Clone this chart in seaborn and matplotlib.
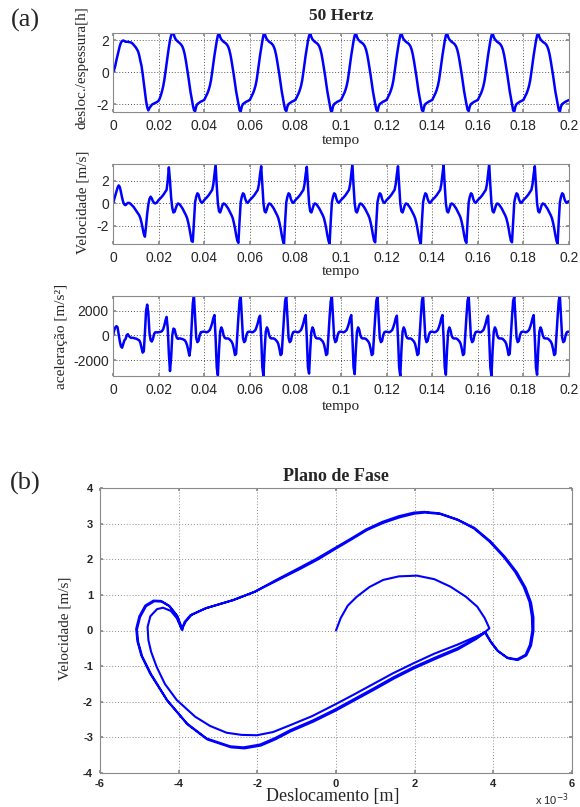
import numpy as np
import matplotlib
matplotlib.use("Agg")
import matplotlib.pyplot as plt
import seaborn as sns

# ---------------- data ----------------
xtick_vals = [0, 0.02, 0.04, 0.06, 0.08, 0.1, 0.12, 0.14, 0.16, 0.18, 0.2]
xtick_labels = ["0", "0.02", "0.04", "0.06", "0.08", "0.1", "0.12", "0.14", "0.16", "0.18", "0.2"]

# displacement / thickness (10 periods of 0.02 s, step 0.5 ms)
desloc = (
    [0.0, 0.15, 0.4, 0.75, 1.05, 1.35, 1.65, 1.85, 1.95, 1.98, 1.95, 1.9, 1.9, 1.9, 1.88, 1.87, 1.85, 1.8, 1.72, 1.65,
     1.55, 1.42, 1.3, 1.05, 0.7, 0.4, -0.1, -0.65, -1.25, -1.8, -2.2, -2.4, -2.25, -2.15, -2.05, -2.0, -1.97, -1.93, -1.9, -1.85]
    + [-1.8, -1.65, -1.45, -1.2, -0.9, -0.5, 0.0, 0.55, 1.05, 1.55, 2.0, 2.3, 2.44, 2.45, 2.2, 2.05, 1.97, 1.9, 1.85, 1.78,
       1.7, 1.58, 1.38, 1.08, 0.68, 0.22, -0.25, -0.75, -1.25, -1.65, -2.05, -2.38, -2.46, -2.15, -2.0, -1.95, -1.9, -1.85, -1.82, -1.78]
    + [-1.75, -1.6, -1.45, -1.3, -1.1, -0.85, -0.5, 0.0, 0.55, 1.05, 1.5, 1.95, 2.3, 2.44, 2.2, 2.05, 1.97, 1.9, 1.85, 1.8,
       1.72, 1.6, 1.4, 1.1, 0.7, 0.25, -0.2, -0.7, -1.2, -1.6, -2.0, -2.38, -2.47, -2.15, -2.0, -1.95, -1.9, -1.85, -1.82, -1.78]
    + [-1.75, -1.6, -1.45, -1.3, -1.1, -0.85, -0.5, 0.0, 0.55, 1.05, 1.5, 1.95, 2.32, 2.45, 2.2, 2.05, 1.97, 1.9, 1.85, 1.8,
       1.72, 1.6, 1.4, 1.1, 0.7, 0.25, -0.2, -0.7, -1.2, -1.6, -2.0, -2.35, -2.45, -2.15, -2.0, -1.95, -1.9, -1.85, -1.82, -1.78]
    + [-1.75, -1.6, -1.45, -1.3, -1.1, -0.85, -0.5, 0.0, 0.55, 1.05, 1.5, 1.95, 2.28, 2.43, 2.2, 2.05, 1.97, 1.9, 1.85, 1.8,
       1.72, 1.6, 1.4, 1.1, 0.7, 0.25, -0.2, -0.7, -1.2, -1.6, -2.0, -2.4, -2.48, -2.15, -2.0, -1.95, -1.9, -1.85, -1.82, -1.78]
    + [-1.75, -1.6, -1.45, -1.3, -1.1, -0.85, -0.5, 0.0, 0.55, 1.05, 1.5, 1.95, 2.3, 2.45, 2.2, 2.05, 1.97, 1.9, 1.85, 1.8,
       1.72, 1.6, 1.4, 1.1, 0.7, 0.25, -0.2, -0.7, -1.2, -1.6, -2.0, -2.36, -2.46, -2.15, -2.0, -1.95, -1.9, -1.85, -1.82, -1.78]
    + [-1.75, -1.6, -1.45, -1.3, -1.1, -0.85, -0.5, 0.0, 0.55, 1.05, 1.5, 1.95, 2.31, 2.44, 2.2, 2.05, 1.97, 1.9, 1.85, 1.8,
       1.72, 1.6, 1.4, 1.1, 0.7, 0.25, -0.2, -0.7, -1.2, -1.6, -2.0, -2.38, -2.47, -2.15, -2.0, -1.95, -1.9, -1.85, -1.82, -1.78]
    + [-1.75, -1.6, -1.45, -1.3, -1.1, -0.85, -0.5, 0.0, 0.55, 1.05, 1.5, 1.95, 2.3, 2.45, 2.2, 2.05, 1.97, 1.9, 1.85, 1.8,
       1.72, 1.6, 1.4, 1.1, 0.7, 0.25, -0.2, -0.7, -1.2, -1.6, -2.0, -2.35, -2.45, -2.15, -2.0, -1.95, -1.9, -1.85, -1.82, -1.78]
    + [-1.75, -1.6, -1.45, -1.3, -1.1, -0.85, -0.5, 0.0, 0.55, 1.05, 1.5, 1.95, 2.29, 2.44, 2.2, 2.05, 1.97, 1.9, 1.85, 1.8,
       1.72, 1.6, 1.4, 1.1, 0.7, 0.25, -0.2, -0.7, -1.2, -1.6, -2.0, -2.4, -2.48, -2.15, -2.0, -1.95, -1.9, -1.85, -1.82, -1.78]
    + [-1.75, -1.6, -1.45, -1.3, -1.1, -0.85, -0.5, 0.0, 0.55, 1.05, 1.5, 1.95, 2.3, 2.45, 2.2, 2.05, 1.97, 1.9, 1.85, 1.8,
       1.72, 1.6, 1.4, 1.1, 0.7, 0.25, -0.2, -0.7, -1.2, -1.6, -2.0, -2.37, -2.47, -2.15, -2.0, -1.95, -1.9, -1.85, -1.82, -1.78]
    + [-1.75]
)

# velocity [m/s]
veloc = (
    [0.0, 0.35, 0.7, 1.05, 1.4, 1.6, 1.45, 1.0, 0.5, 0.1, -0.1, -0.15, -0.05, 0.05, 0.05, 0.0, -0.1, -0.2, -0.3, -0.45,
     -0.6, -0.75, -0.9, -1.05, -1.3, -1.7, -2.2, -2.7, -2.95, -2.0, -0.9, -0.1, 0.4, 0.6, 0.45, 0.2, 0.05, 0.0, 0.05, 0.15]
    + [0.3, 0.4, 0.5, 0.62, 0.74, 0.9, 1.05, 1.2, 2.0, 3.2, 2.0, 0.5, -0.4, -0.8, -0.75, -0.45, -0.15, 0.0, -0.05, -0.15,
       -0.3, -0.45, -0.65, -0.85, -1.05, -1.3, -1.7, -2.2, -2.8, -3.35, -3.4, -1.6, 0.1, 0.6, 0.9, 0.8, 0.4, 0.15, 0.05, 0.15]
    + [0.3, 0.4, 0.5, 0.62, 0.74, 0.9, 1.05, 1.2, 1.7, 2.6, 3.45, 1.6, 0.0, -0.7, -0.8, -0.5, -0.15, 0.0, -0.05, -0.15,
       -0.3, -0.45, -0.65, -0.85, -1.05, -1.3, -1.7, -2.2, -2.8, -3.3, -3.5, -1.6, 0.1, 0.6, 0.9, 0.8, 0.4, 0.15, 0.05, 0.15]
    + [0.3, 0.4, 0.5, 0.62, 0.74, 0.9, 1.05, 1.2, 1.7, 2.6, 3.3, 1.6, 0.0, -0.7, -0.8, -0.5, -0.15, 0.0, -0.05, -0.15,
       -0.3, -0.45, -0.65, -0.85, -1.05, -1.3, -1.7, -2.2, -2.8, -3.3, -3.6, -1.6, 0.1, 0.6, 0.9, 0.8, 0.4, 0.15, 0.05, 0.15]
    + [0.3, 0.4, 0.5, 0.62, 0.74, 0.9, 1.05, 1.2, 1.7, 2.6, 3.25, 1.6, 0.0, -0.7, -0.8, -0.5, -0.15, 0.0, -0.05, -0.15,
       -0.3, -0.45, -0.65, -0.85, -1.05, -1.3, -1.7, -2.2, -2.8, -3.3, -3.6, -1.6, 0.1, 0.6, 0.9, 0.8, 0.4, 0.15, 0.05, 0.15]
    + [0.3, 0.4, 0.5, 0.62, 0.74, 0.9, 1.05, 1.2, 1.7, 2.6, 3.5, 1.6, 0.0, -0.7, -0.8, -0.5, -0.15, 0.0, -0.05, -0.15,
       -0.3, -0.45, -0.65, -0.85, -1.05, -1.3, -1.7, -2.2, -2.8, -3.3, -3.45, -1.6, 0.1, 0.6, 0.9, 0.8, 0.4, 0.15, 0.05, 0.15]
    + [0.3, 0.4, 0.5, 0.62, 0.74, 0.9, 1.05, 1.2, 1.7, 2.6, 3.3, 1.6, 0.0, -0.7, -0.8, -0.5, -0.15, 0.0, -0.05, -0.15,
       -0.3, -0.45, -0.65, -0.85, -1.05, -1.3, -1.7, -2.2, -2.8, -3.3, -3.6, -1.6, 0.1, 0.6, 0.9, 0.8, 0.4, 0.15, 0.05, 0.15]
    + [0.3, 0.4, 0.5, 0.62, 0.74, 0.9, 1.05, 1.2, 1.7, 2.6, 3.4, 1.6, 0.0, -0.7, -0.8, -0.5, -0.15, 0.0, -0.05, -0.15,
       -0.3, -0.45, -0.65, -0.85, -1.05, -1.3, -1.7, -2.2, -2.8, -3.3, -3.5, -1.6, 0.1, 0.6, 0.9, 0.8, 0.4, 0.15, 0.05, 0.15]
    + [0.3, 0.4, 0.5, 0.62, 0.74, 0.9, 1.05, 1.2, 1.7, 2.6, 3.5, 1.6, 0.0, -0.7, -0.8, -0.5, -0.15, 0.0, -0.05, -0.15,
       -0.3, -0.45, -0.65, -0.85, -1.05, -1.3, -1.7, -2.2, -2.8, -3.3, -3.45, -1.6, 0.1, 0.6, 0.9, 0.8, 0.4, 0.15, 0.05, 0.15]
    + [0.3, 0.4, 0.5, 0.62, 0.74, 0.9, 1.05, 1.2, 1.7, 2.6, 3.3, 1.6, 0.0, -0.7, -0.8, -0.5, -0.15, 0.0, -0.05, -0.15,
       -0.3, -0.45, -0.65, -0.85, -1.05, -1.3, -1.7, -2.2, -2.8, -3.3, -3.6, -1.6, 0.1, 0.6, 0.9, 0.8, 0.4, 0.15, 0.05, 0.15]
    + [0.2]
)

# acceleration [m/s^2]
acel = (
    [0, 400, 650, 750, 650, 100, -500, -900, -1000, -700, -400, -300, 0, 100, -50, -150, -200, -200, -200, -250,
     -250, -300, -350, -400, -600, -1000, -1400, -1300, 200, 2000, 2500, 1800, 200, -400, -500, -300, 100, 250, 250, 250]
    + [250, 280, 300, 350, 500, 800, 1200, 1500, 600, -1500, -2900, -1800, 0, 550, 500, 100, -200, -280, -250, -250,
       -280, -300, -350, -400, -550, -800, -1200, -1650, -1000, 800, 2600, 3200, 1500, -200, -550, -450, 0, 250, 280, 300]
    + [300, 280, 250, 280, 350, 450, 700, 1000, 1400, 1650, -200, -2600, -3250, -1200, 300, 650, 450, 0, -200, -250,
       -250, -250, -300, -400, -500, -700, -1100, -1600, -1500, 0, 1500, 2800, 3200, 1500, -200, -550, -450, 0, 250, 300]
    + [300, 280, 250, 280, 350, 450, 700, 1000, 1400, 1600, -200, -2600, -3300, -1200, 300, 650, 450, 0, -200, -250,
       -250, -250, -300, -400, -500, -700, -1100, -1600, -1500, 0, 1500, 2800, 3200, 1500, -200, -550, -450, 0, 250, 300]
    + [300, 280, 250, 280, 350, 450, 700, 1000, 1400, 1650, -200, -2600, -3100, -1200, 300, 650, 450, 0, -200, -250,
       -250, -250, -300, -400, -500, -700, -1100, -1600, -1500, 0, 1500, 2800, 3150, 1500, -200, -550, -450, 0, 250, 300]
    + [300, 280, 250, 280, 350, 450, 700, 1000, 1400, 1650, -200, -2600, -3150, -1200, 300, 650, 450, 0, -200, -250,
       -250, -250, -300, -400, -500, -700, -1100, -1600, -1500, 0, 1500, 2800, 3200, 1500, -200, -550, -450, 0, 250, 300]
    + [300, 280, 250, 280, 350, 450, 700, 1000, 1400, 1600, -200, -2600, -3300, -1200, 300, 650, 450, 0, -200, -250,
       -250, -250, -300, -400, -500, -700, -1100, -1600, -1500, 0, 1500, 2800, 3200, 1500, -200, -550, -450, 0, 250, 300]
    + [300, 280, 250, 280, 350, 450, 700, 1000, 1400, 1650, -200, -2600, -3200, -1200, 300, 650, 450, 0, -200, -250,
       -250, -250, -300, -400, -500, -700, -1100, -1600, -1500, 0, 1500, 2800, 3200, 1500, -200, -550, -450, 0, 250, 300]
    + [300, 280, 250, 280, 350, 450, 700, 1000, 1400, 1600, -200, -2600, -3300, -1200, 300, 650, 450, 0, -200, -250,
       -250, -250, -300, -400, -500, -700, -1100, -1600, -1500, 0, 1500, 2800, 3150, 1500, -200, -550, -450, 0, 250, 300]
    + [300, 280, 250, 280, 350, 450, 700, 1000, 1400, 1650, -200, -2600, -3200, -1200, 300, 650, 450, 0, -200, -250,
       -250, -250, -300, -400, -500, -700, -1100, -1600, -1500, 0, 1500, 2800, 3200, 1500, -200, -550, -450, 0, 250, 300]
    + [300]
)

tempo = np.linspace(0, 0.2, len(desloc))

# phase plane trajectory: displacement [x 1e-3 m], velocity [m/s]
fase_x_inicio = [0.0, 0.12, 0.3, 0.53, 0.85, 1.2, 1.6, 2.06, 2.5, 2.91, 3.3, 3.59, 3.78, 3.9,
                 3.75, 3.5, 3.08, 2.5, 1.97, 1.45, 0.95, 0.45, -0.03, -0.6, -1.17, -1.6, -2.01, -2.4, -2.78, -3.2,
                 -3.58, -4.05, -4.35, -4.56, -4.7, -4.77, -4.79, -4.72, -4.55, -4.4, -4.2, -4.05, -3.92]
fase_v_inicio = [0.0, 0.35, 0.7, 0.95, 1.22, 1.42, 1.52, 1.54, 1.44, 1.23, 0.95, 0.67, 0.35, 0.06,
                 -0.08, -0.2, -0.4, -0.65, -0.92, -1.2, -1.5, -1.8, -2.08, -2.4, -2.66, -2.85, -2.94, -2.93, -2.87, -2.68,
                 -2.42, -1.95, -1.5, -1.02, -0.6, -0.27, 0.1, 0.4, 0.6, 0.64, 0.55, 0.35, 0.03]
fase_x_ciclo1 = [-3.82, -3.67, -3.3, -2.9, -2.6, -2.06, -1.5, -0.91, -0.45, 0.0, 0.4, 0.79, 1.2, 1.63, 2.0, 2.27, 2.65,
                 3.1, 3.5, 3.9, 4.26, 4.55, 4.77, 4.92, 4.98, 4.99, 4.93, 4.82, 4.6, 4.35, 4.1, 3.92, 3.78,
                 3.55, 3.08, 2.5, 1.97, 1.45, 0.95, 0.45, -0.03, -0.6, -1.17, -1.55, -1.93, -2.35, -2.69, -3.29, -3.79,
                 -4.3, -4.73, -4.95, -5.05, -5.08, -5.0, -4.85, -4.64, -4.45, -4.25, -4.05, -3.92]
fase_v_ciclo1 = [0.25, 0.44, 0.63, 0.76, 0.86, 1.09, 1.4, 1.73, 2.0, 2.3, 2.56, 2.82, 3.02, 3.18, 3.28, 3.31, 3.27,
                 3.1, 2.87, 2.5, 2.07, 1.65, 1.23, 0.8, 0.39, 0.0, -0.4, -0.68, -0.81, -0.76, -0.56, -0.3, -0.04,
                 -0.22, -0.5, -0.77, -1.03, -1.32, -1.63, -1.93, -2.22, -2.53, -2.8, -3.02, -3.2, -3.28, -3.25, -3.03, -2.61,
                 -1.95, -1.2, -0.7, -0.3, 0.05, 0.4, 0.7, 0.84, 0.83, 0.7, 0.42, 0.03]
fase_x_ciclo2 = [-3.85, -3.7, -3.32, -2.92, -2.62, -2.08, -1.52, -0.93, -0.47, -0.02, 0.38, 0.77, 1.18, 1.6, 1.98, 2.25, 2.63,
                 3.08, 3.52, 3.93, 4.3, 4.6, 4.82, 4.96, 5.02, 5.02, 4.96, 4.84, 4.62, 4.37, 4.12, 3.94, 3.8,
                 3.56, 3.1, 2.52, 1.99, 1.47, 0.97, 0.47, -0.01, -0.58, -1.15, -1.53, -1.91, -2.33, -2.67, -3.27, -3.77,
                 -4.28, -4.7, -4.93, -5.03, -5.06, -4.98, -4.83, -4.62, -4.43, -4.23, -4.03, -3.9]
fase_v_ciclo2 = [0.24, 0.43, 0.62, 0.75, 0.85, 1.08, 1.42, 1.76, 2.03, 2.32, 2.58, 2.84, 3.05, 3.21, 3.31, 3.33, 3.29,
                 3.12, 2.88, 2.5, 2.06, 1.63, 1.2, 0.78, 0.37, -0.02, -0.42, -0.7, -0.83, -0.78, -0.58, -0.32, -0.05,
                 -0.24, -0.53, -0.8, -1.06, -1.35, -1.66, -1.96, -2.25, -2.56, -2.83, -3.05, -3.23, -3.31, -3.28, -3.06, -2.64,
                 -1.98, -1.23, -0.72, -0.32, 0.03, 0.38, 0.68, 0.82, 0.81, 0.68, 0.4, 0.02]

fase_x = fase_x_inicio + fase_x_ciclo1 + fase_x_ciclo2
fase_v = fase_v_inicio + fase_v_ciclo1 + fase_v_ciclo2
fase_xticks = [-6, -4, -2, 0, 2, 4, 6]
fase_yticks = [-4, -3, -2, -1, 0, 1, 2, 3, 4]

# ---------------- styling ----------------
sns.set_theme(style="white")
plt.rcParams['font.family'] = ['Liberation Sans', 'DejaVu Sans']
plt.rcParams['axes.unicode_minus'] = False
SERIF = ['Liberation Serif', 'DejaVu Serif']
BLUE = '#0000ff'
W, H = 580, 807

fig = plt.figure(figsize=(W / 100, H / 100), dpi=100)


def rect(l, t, r, b):
    return [l / W, 1 - b / H, (r - l) / W, (b - t) / H]


def style(ax, grid_color='#555555'):
    ax.grid(True, linestyle=(0, (1, 2)), color=grid_color, linewidth=0.7)
    for s in ax.spines.values():
        s.set_color('#8a8a8a')
        s.set_linewidth(0.8)
    ax.set_axisbelow(True)


series = [
    (desloc, rect(113, 33, 569, 112), [-2, 0, 2], ["-2", "0", "2"], (-2.5, 2.45),
     "desloc./espessura[h]", (-0.069, 0.56), -0.36),
    (veloc, rect(113, 164, 569, 244), [-2, 0, 2], ["-2", "0", "2"], (-3.6, 3.5),
     "Velocidade [m/s]", (-0.066, 0.525), -0.34),
    (acel, rect(113, 296, 569, 376), [-2000, 0, 2000], ["-2000", "0", "2000"], (-3300, 3200),
     "aceleração [m/s²]", (-0.112, 0.5), -0.38),
]

for vals, r, yt, ytl, ylim, ylab, ylpos, xly in series:
    ax = fig.add_axes(r)
    sns.lineplot(x=tempo, y=vals, ax=ax, color=BLUE, linewidth=1.8, estimator=None)
    ax.set_xlim(0, 0.2)
    ax.set_ylim(*ylim)
    ax.set_xticks(xtick_vals)
    ax.set_xticklabels(xtick_labels)
    ax.set_yticks(yt)
    ax.set_yticklabels(ytl)
    style(ax)
    ax.tick_params(axis='both', direction='in', length=2, color='#8a8a8a', labelsize=10,
                   top=True, right=True, bottom=True, left=True)
    ax.tick_params(axis='x', pad=5)
    ax.tick_params(axis='y', pad=3)
    ax.set_ylabel(ylab, fontfamily=SERIF, fontsize=11, va='center')
    ax.yaxis.set_label_coords(*ylpos)
    ax.set_xlabel("tempo", fontfamily=SERIF, fontsize=11, va='center')
    ax.xaxis.set_label_coords(0.5, xly)

fig.text(341 / W, 1 - 16.5 / H, "50 Hertz", fontfamily=SERIF, fontweight='bold', fontsize=12.5,
         ha='center', va='center')

# phase plane
axp = fig.add_axes(rect(100, 488, 572, 773))
sns.lineplot(x=fase_x, y=fase_v, ax=axp, sort=False, estimator=None, color=BLUE, linewidth=1.5)
axp.set_xlim(-6, 6)
axp.set_ylim(-4, 4)
axp.set_xticks(fase_xticks)
axp.set_xticklabels([str(v) for v in fase_xticks])
axp.set_yticks(fase_yticks)
axp.set_yticklabels([str(v) for v in fase_yticks])
style(axp, grid_color='#8c8c8c')
axp.tick_params(axis='both', direction='in', length=2, color='#8a8a8a', labelsize=8,
                top=True, right=True, bottom=True, left=True)
axp.tick_params(axis='x', pad=4)
axp.tick_params(axis='y', pad=5)
for lab in axp.get_xticklabels() + axp.get_yticklabels():
    lab.set_fontweight('bold')
axp.set_title("Plano de Fase", fontfamily=SERIF, fontweight='bold', fontsize=13, pad=5)
axp.set_ylabel("Velocidade [m/s]", fontfamily=SERIF, fontsize=11, va='center')
axp.yaxis.set_label_coords(-0.074, 0.506)
axp.set_xlabel("Deslocamento [m]", fontfamily=SERIF, fontsize=13, va='center')
axp.xaxis.set_label_coords(0.494, -0.083)
fig.text(552 / W, 1 - 800 / H, "x 10$^{-3}$", fontsize=8, ha='center', va='center')

fig.text(25 / W, 1 - 20 / H, "(a)", fontfamily=SERIF, fontsize=19, ha='center', va='center')
fig.text(25 / W, 1 - 483 / H, "(b)", fontfamily=SERIF, fontsize=19, ha='center', va='center')

fig.savefig("out.png", dpi=100)
